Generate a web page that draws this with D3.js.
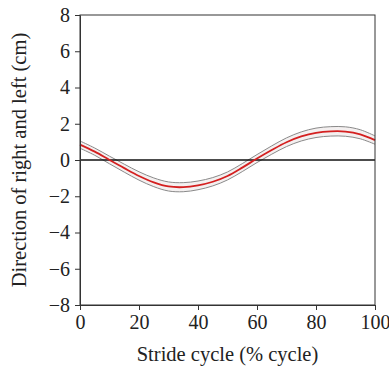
<!DOCTYPE html>
<html><head><meta charset="utf-8">
<script src="https://cdn.jsdelivr.net/npm/d3@7"></script>
<style>body{margin:0;background:#fff}svg{display:block}
text{font-family:"Liberation Serif","DejaVu Serif",serif}</style>
</head><body>
<script>
const stridePct = [0,5,10,15,20,25,30,35,40,45,50,55,60,65,70,75,80,85,90,95,100];
const meanDisp = [0.85,0.46,0.0,-0.45,-0.88,-1.23,-1.46,-1.5,-1.4,-1.2,-0.88,-0.42,0.08,0.55,0.98,1.3,1.5,1.58,1.57,1.42,1.1];
const sdDisp = [0.2,0.2,0.21,0.22,0.23,0.24,0.25,0.25,0.24,0.23,0.22,0.22,0.22,0.23,0.24,0.25,0.26,0.26,0.26,0.25,0.23];
const xTicks = [0,20,40,60,80,100];
const yTicks = [-8,-6,-4,-2,0,2,4,6,8];

const W=389,H=374, m={l:80,r:14,t:15,b:69};
const svg=d3.select("body").append("svg").attr("width",W).attr("height",H);
const x=d3.scaleLinear().domain([0,100]).range([m.l,W-m.r]);
const y=d3.scaleLinear().domain([-8,8]).range([H-m.b,m.t]);
const data=stridePct.map((p,i)=>({p,m:meanDisp[i],s:sdDisp[i]}));
const curve=d3.curveCatmullRom;

svg.append("path").datum(data)
  .attr("d",d3.area().x(d=>x(d.p)).y0(d=>y(d.m-d.s)).y1(d=>y(d.m+d.s)).curve(curve))
  .attr("fill","#f4f0f0");
[-1,1].forEach(k=>{
  svg.append("path").datum(data)
    .attr("d",d3.line().x(d=>x(d.p)).y(d=>y(d.m+k*d.s)).curve(curve))
    .attr("fill","none").attr("stroke","#8a8a8a").attr("stroke-width",1);
});
svg.append("line").attr("x1",x(0)).attr("x2",x(100)).attr("y1",y(0)).attr("y2",y(0))
  .attr("stroke","#111").attr("stroke-width",1.5);
svg.append("path").datum(data)
  .attr("d",d3.line().x(d=>x(d.p)).y(d=>y(d.m)).curve(curve))
  .attr("fill","none").attr("stroke","#d42020").attr("stroke-width",1.8);

svg.append("rect").attr("x",x(0)).attr("y",y(8)).attr("width",x(100)-x(0)).attr("height",y(-8)-y(8))
  .attr("fill","none").attr("stroke","#333").attr("stroke-width",1);

const xa=svg.append("g").attr("transform",`translate(0,${y(-8)})`)
  .call(d3.axisBottom(x).tickValues(xTicks).tickSize(5).tickSizeOuter(0).tickPadding(5));
const ya=svg.append("g").attr("transform",`translate(${x(0)},0)`)
  .call(d3.axisLeft(y).tickValues(yTicks).tickSize(5).tickSizeOuter(0).tickPadding(5)
  .tickFormat(d=>d<0?"\u2212"+Math.abs(d):d));
[xa,ya].forEach(a=>{
  a.attr("font-family",null).attr("font-size",null);
  a.select(".domain").attr("stroke","#333");
  a.selectAll(".tick line").attr("stroke","#333");
  a.selectAll("text").attr("fill","#222").style("font-size","20px");
});
svg.append("text").attr("x",(x(0)+x(100))/2).attr("y",361).attr("text-anchor","middle")
  .style("font-size","20.5px").attr("fill","#222").text("Stride cycle (% cycle)");
svg.append("text").attr("transform",`translate(26,${y(0)}) rotate(-90)`).attr("text-anchor","middle")
  .style("font-size","20.5px").attr("fill","#222").text("Direction of right and left (cm)");
</script>
</body></html>
